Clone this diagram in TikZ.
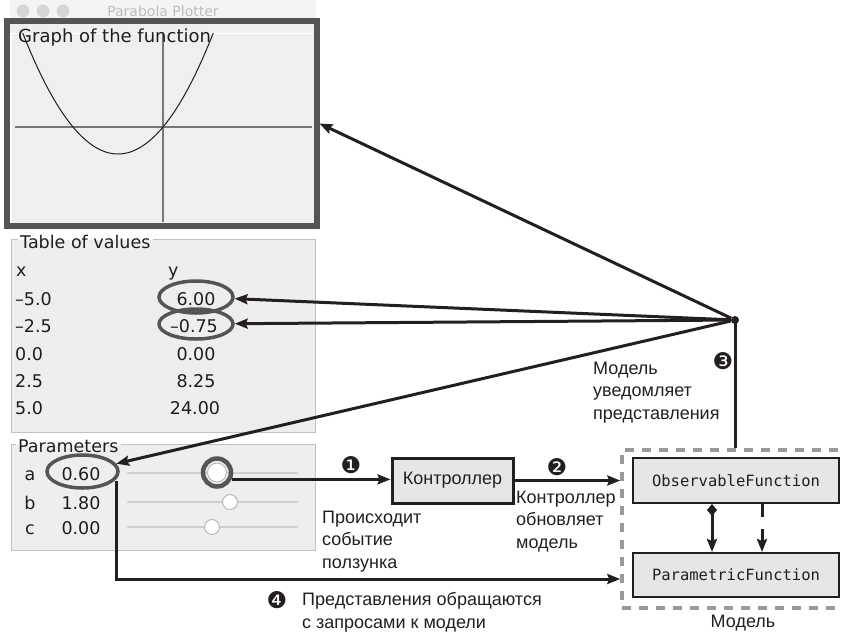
\documentclass[tikz,border=0pt]{standalone}
\usepackage{fontspec}
\setmainfont{Liberation Sans}
\newfontfamily\uifont{DejaVu Sans}
\newfontfamily\codefont{DejaVu Sans Mono}
\newfontfamily\dingfont{DejaVu Sans}
\usetikzlibrary{arrows.meta,shapes.geometric}
\definecolor{ink}{HTML}{231F20}
\definecolor{frame}{HTML}{555555}
\definecolor{panel}{HTML}{EFEFEF}
\definecolor{panelb}{HTML}{EEEEEE}
\definecolor{uiline}{HTML}{C2C2C2}
\definecolor{uitext}{HTML}{1E1E1E}
\definecolor{boxfill}{HTML}{E6E6E6}
\definecolor{dashgray}{HTML}{9A9A9A}
\definecolor{track}{HTML}{CFCFCF}
\definecolor{knobline}{HTML}{B8B8B8}
\definecolor{axis}{HTML}{777777}
\definecolor{titlebar}{HTML}{F4F4F4}
\definecolor{light}{HTML}{D6D6D6}
\definecolor{titletext}{HTML}{BDBDBD}
\tikzset{
  arr/.style={draw=ink, line width=3pt, -{Stealth[length=13pt,width=10pt,inset=2pt]}},
  plainline/.style={draw=ink, line width=3pt},
  comp/.style={draw=ink, line width=3pt, {Diamond[length=12pt,width=10pt]}-{Stealth[length=13pt,width=10pt,inset=2pt]}},
  ell/.style={ellipse, draw=frame, line width=3.5pt, inner sep=0},
  uitxt/.style={font=\uifont\fontsize{17.5}{20}\selectfont, text=uitext, inner sep=0},
  lbl/.style={font=\fontsize{18}{22.5}\selectfont, text=ink, align=left, inner sep=0, anchor=north west},
  num/.style={font=\dingfont\fontsize{23}{23}\selectfont, text=ink, inner sep=0},
  cls/.style={rectangle, draw=ink, fill=boxfill, line width=2pt, minimum width=206pt, font=\codefont\fontsize{15.5}{18}\selectfont, text=ink},
  knob/.style={circle, fill=white, draw=knobline, line width=1pt, inner sep=0, minimum size=15pt},
  uipanel/.style={rectangle, fill=panelb, inner sep=0},
}
\begin{document}
\begin{tikzpicture}[x=1pt,y=-1pt]
\useasboundingbox (0,0) rectangle (843,633);
\clip (0,0) rectangle (843,633);
\fill[white] (0,0) rectangle (843,633);

% window title bar
\fill[titlebar] (10,0) rectangle (316,19);
\foreach \cx in {23,43,63} \fill[light] (\cx,11) circle (6.5);
\node[font=\uifont\fontsize{14}{16}\selectfont, text=titletext, anchor=base, inner sep=0] (wtitle) at (163,16) {Parabola Plotter};

% graph panel
\node[rectangle, draw=frame, fill=panel, line width=6pt, minimum width=310pt, minimum height=205pt, inner sep=0] (graph) at (161.5,123.5) {};
\draw[white, line width=1.5pt] (11,223) -- (11,33.5) -- (313,33.5);
\draw[axis, line width=1.3pt] (15,127) -- (312,127);
\draw[axis, line width=1.3pt] (163,34) -- (163,222);
\draw[draw=uitext, line width=1pt] plot[domain=-4.675:1.675, samples=80, smooth] ({163+30*\x},{127-20*(0.6*\x*\x+1.8*\x)});
\node[uitxt, font=\uifont\fontsize{18}{20}\selectfont, anchor=base west] (glab) at (18,42) {Graph of the function};

% table panel
\node[uipanel, minimum width=303pt, minimum height=192pt] (tbl) at (163.5,336) {};
\node[uitxt, anchor=base west] (tlab) at (20,248) {Table of values};
\draw[uiline, line width=1.2pt] ([xshift=2pt]tlab.east |- tbl.north) -- (tbl.north east) -- (tbl.south east) -- (tbl.south west) -- (tbl.north west) -- ([xshift=-2pt]tlab.west |- tbl.north);
\node[uitxt, anchor=base west] (hx) at (16,276) {x};
\node[uitxt, anchor=base west] (hy) at (168,276) {y};
\node[uitxt, anchor=base west] (x1) at (15,305) {–5.0};
\node[uitxt, anchor=base west] (x2) at (15,332) {–2.5};
\node[uitxt, anchor=base west] (x3) at (15,360) {0.0};
\node[uitxt, anchor=base west] (x4) at (15,387) {2.5};
\node[uitxt, anchor=base west] (x5) at (15,414) {5.0};
\node[uitxt, anchor=base] (y1) at (196,305) {6.00};
\node[uitxt, anchor=base] (y2) at (194,332) {–0.75};
\node[uitxt, anchor=base] (y3) at (196,360) {0.00};
\node[uitxt, anchor=base] (y4) at (196,387) {8.25};
\node[uitxt, anchor=base] (y5) at (195,414) {24.00};
\node[ell, minimum width=74pt, minimum height=32pt] (e1) at (196,297) {};
\node[ell, minimum width=74pt, minimum height=30pt] (e2) at (196,324) {};

% parameters panel
\node[uipanel, minimum width=303pt, minimum height=105pt] (prm) at (163.5,497.5) {};
\node[uitxt, anchor=base west] (plab) at (18,452) {Parameters};
\draw[uiline, line width=1.2pt] ([xshift=2pt]plab.east |- prm.north) -- (prm.north east) -- (prm.south east) -- (prm.south west) -- (prm.north west) -- ([xshift=-2pt]plab.west |- prm.north);
\node[uitxt, anchor=base] (pa) at (30,480) {a};
\node[uitxt, anchor=base] (pb) at (30,509) {b};
\node[uitxt, anchor=base] (pc) at (30,534) {c};
\node[uitxt, anchor=base] (va) at (81,480) {0.60};
\node[uitxt, anchor=base] (vb) at (81,509) {1.80};
\node[uitxt, anchor=base] (vc) at (81,534) {0.00};
\draw[track, line width=2.5pt, line cap=round] (128,473) -- (297,473);
\draw[track, line width=2.5pt, line cap=round] (128,502) -- (297,502);
\draw[track, line width=2.5pt, line cap=round] (128,527) -- (297,527);
\node[knob, minimum size=19pt] (ka) at (217,472.5) {};
\node[knob] (kb) at (230,502) {};
\node[knob] (kc) at (212,527) {};
\node[circle, draw=frame, line width=4.5pt, minimum size=28pt, inner sep=0] (ring) at (217,472.5) {};
\node[ell, minimum width=71pt, minimum height=33pt] (ea) at (82.5,471.5) {};

% controller
\node[rectangle, draw=ink, fill=boxfill, line width=3pt, minimum width=121pt, minimum height=45pt, font=\fontsize{18}{20}\selectfont, text=ink] (ctrl) at (452.5,480.5) {Контроллер};

% model (its right side lies beyond the picture's edge)
\node[rectangle, draw=dashgray, line width=3.5pt, dash pattern=on 9pt off 8pt, minimum width=250pt, minimum height=158pt, inner sep=0] (model) at (747,529) {};
\node[cls, minimum height=45pt] (of) at (736,480.5) {ObservableFunction};
\node[cls, minimum height=44pt] (pf) at (736,575) {ParametricFunction};
\node[font=\fontsize{18}{20}\selectfont, text=ink, inner sep=0] (mlab) at (743,623) {Модель};
\draw[comp] ([xshift=-24pt]of.south) -- ([xshift=-24pt]of.south |- pf.north);
\draw[arr, dash pattern=on 13pt off 12pt] ([xshift=26pt]of.south) -- ([xshift=26pt]of.south |- pf.north);

% hub and notifications
\node[circle, fill=ink, minimum size=8pt, inner sep=0] (hub) at (735,320) {};
\draw[arr] (hub) -- (graph.east);
\draw[arr] (hub) -- (e1);
\draw[arr] (hub) -- (e2);
\draw[arr] (hub) -- (ea);
\draw[plainline] (hub.center) -- (hub |- model.north);

% flow arrows
\draw[arr] (ring.-25) -- (ring.-25 -| ctrl.west);
\draw[arr] (ctrl.east) -- (ctrl.east -| model.west);
\coordinate (p4) at (116,481);
\coordinate (q4) at (0,579);
\draw[arr] (p4) |- (model.west |- q4);

% numbers and captions
\node[num] (n1) at (351,465) {❶};
\node[num] (n2) at (557,467) {❷};
\node[num] (n3) at (723,361) {❸};
\node[num] (n4) at (277,600) {❹};
\node[lbl] (t1) at (322,510.5) {Происходит\\событие\\ползунка};
\node[lbl] (t2) at (516,490.5) {Контроллер\\обновляет\\модель};
\node[lbl] (t3) at (593,361.5) {Модель\\уведомляет\\представления};
\node[lbl] (t4) at (302,592.5) {Представления обращаются\\с запросами к модели};
\end{tikzpicture}
\end{document}
